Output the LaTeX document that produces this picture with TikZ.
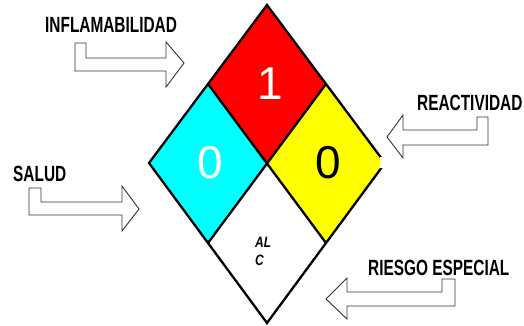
\documentclass[tikz,border=0pt]{standalone}
\usepackage{fontspec}
\setmainfont{Liberation Sans}
\newcommand{\cond}[1]{\scalebox{0.7}[1]{#1}}
\newcommand{\condac}[1]{\scalebox{0.8}[1]{#1}}
\definecolor{nfpared}{RGB}{255,0,0}
\definecolor{nfpacyan}{RGB}{0,255,255}
\definecolor{nfpayellow}{RGB}{255,255,0}
\tikzset{
  lbl/.style={inner sep=0pt, anchor=west, font=\bfseries\fontsize{22}{22}\selectfont},
  numtxt/.style={inner sep=0pt, font=\fontsize{46}{46}\selectfont},
  arrowbox/.style={draw=black!80, line width=0.9pt, fill=white, line join=miter},
  border/.style={draw=black, line width=2.3pt, line join=miter},
}
\begin{document}
\begin{tikzpicture}[x=1pt,y=-1pt]
\useasboundingbox (0,0) rectangle (524,326);
% diamond corners
\coordinate (T) at (267,5);
\coordinate (R) at (385,163);
\coordinate (B) at (267,323);
\coordinate (L) at (149,163);
\coordinate (C) at (267,163);
\coordinate (TL) at (208,84);
\coordinate (TR) at (326,84);
\coordinate (BL) at (208,243);
\coordinate (BR) at (326,243);
% quadrants
\fill[nfpared] (T) -- (TR) -- (C) -- (TL) -- cycle;
\fill[nfpacyan] (TL) -- (C) -- (BL) -- (L) -- cycle;
\fill[nfpayellow] (TR) -- (R) -- (BR) -- (C) -- cycle;
\fill[white] (C) -- (BR) -- (B) -- (BL) -- cycle;
\draw[border] (T) -- (R) -- (B) -- (L) -- cycle;
\draw[border] (TL) -- (BR);
\draw[border] (TR) -- (BL);
% cut at right vertex
\fill[white] (379.5,156.5) rectangle (390,168);
% numbers
\node[numtxt, text=white] (n1) at (270,84) {1};
\node[numtxt, text=white] (n2) at (210,163) {0};
\node[numtxt, text=black] (n3) at (328,163) {0};
\node[inner sep=0pt, anchor=north west, align=left,
      font=\bfseries\itshape\fontsize{15}{18}\selectfont] (ac) at (255,237) {\condac{AL}\\\condac{C}};
% block arrows
\draw[arrowbox] (75,43) -- (86,43) -- (86,58) -- (166,58) -- (166,42) -- (184,63)
  -- (166,87) -- (166,71) -- (75,71) -- cycle;
\draw[arrowbox] (29,188) -- (41,188) -- (41,202) -- (122,202) -- (122,186) -- (139,209)
  -- (122,231) -- (122,215) -- (29,215) -- cycle;
\draw[arrowbox] (488,117) -- (477,117) -- (477,130) -- (403,130) -- (403,115) -- (387,137)
  -- (403,158) -- (403,145) -- (488,145) -- cycle;
\draw[arrowbox] (455,279) -- (442,279) -- (442,292) -- (347,292) -- (347,278) -- (326,299)
  -- (347,319) -- (347,306) -- (455,306) -- cycle;
% labels
\node[lbl] (inf) at (45,25) {\cond{INFLAMABILIDAD}};
\node[lbl] (sal) at (13,174) {\cond{SALUD}};
\node[lbl] (rea) at (417,103) {\cond{REACTIVIDAD}};
\node[lbl] (rie) at (368,268) {\cond{RIESGO ESPECIAL}};
\end{tikzpicture}
\end{document}
